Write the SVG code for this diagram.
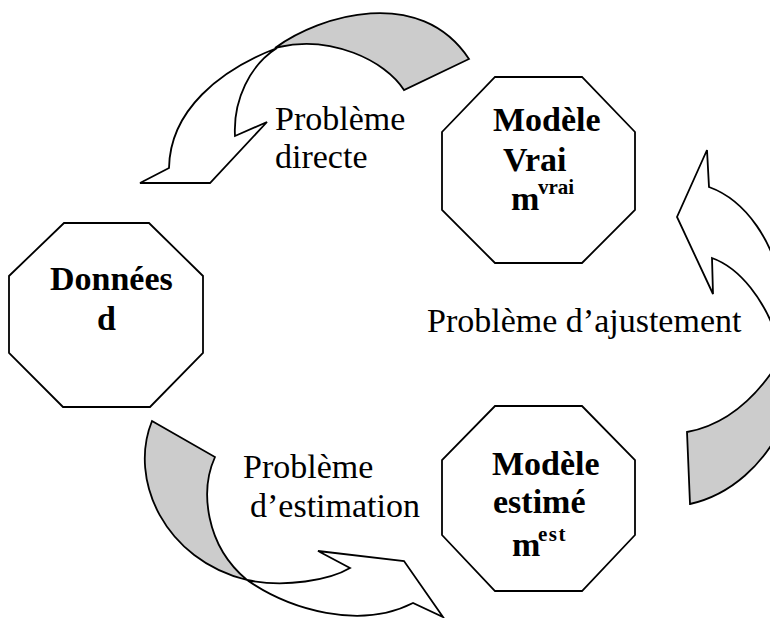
<svg xmlns="http://www.w3.org/2000/svg" width="770" height="618" viewBox="0 0 770 618">
<style>
.oct{fill:#fff;stroke:#000;stroke-width:1.8;stroke-linejoin:miter}
.w{fill:#fff;stroke:#000;stroke-width:1.8;stroke-linejoin:miter}
.g{fill:#cccccc;stroke:#000;stroke-width:1.8;stroke-linejoin:miter}
.b{font-family:"Liberation Serif","Times New Roman",serif;font-weight:bold;font-size:34px;fill:#000}
.sup{font-family:"Liberation Serif","Times New Roman",serif;font-weight:bold;font-size:21px;fill:#000}
.r{font-family:"Liberation Serif","Times New Roman",serif;font-size:34px;fill:#000}
</style>
<rect width="770" height="618" fill="#fff"/>
<g id="connectors">
  <g id="arrow-directe">
    <path class="g" d="M275,48 C320,15 420,-15 469,59 L404,90 C385,60 330,35 279,47 Z"/>
    <path class="w" d="M277,48 C220,70 170,110 169,168 L140,183 L210,183 L267,122 L235,136 C233,100 250,65 277,48 Z"/>
    <text class="r" x="275" y="130">Problème</text>
    <text class="r" x="275" y="168">directe</text>
  </g>
  <g id="arrow-ajustement">
    <path class="w" d="M707,150 L677,217 L713,294 L712,258 C740,268 765,300 778,340 L800,340 L800,300 L785,300 C775,240 745,200 709,187 Z"/>
    <path class="g" d="M687,432 C725,425 755,400 780,360 L800,360 L800,420 L785,420 C765,465 730,495 690,504 Z"/>
    <text class="r" x="427" y="332">Problème d’ajustement</text>
  </g>
  <g id="arrow-estimation">
    <path class="g" d="M152,421 L215,457 C200,490 205,545 247,580 C165,560 128,480 152,421 Z"/>
    <path class="w" d="M247,580 C290,610 360,630 413,603 L443,617 L404,561 L318,551 L350,568 C330,580 285,588 247,580 Z"/>
    <text class="r" x="243" y="478">Problème</text>
    <text class="r" x="250" y="517">d’estimation</text>
  </g>
</g>
<g id="node-donnees">
  <polygon class="oct" points="64,223 149,223 203,276 203,353 150,407 63,407 9,353 9,276"/>
  <text class="b" x="50" y="290">Données</text>
  <text class="b" x="97" y="330">d</text>
</g>
<g id="node-modele-vrai">
  <polygon class="oct" points="495,77 582,77 635,132 635,210 582,263 495,263 442,210 442,132"/>
  <text class="b" x="493" y="131">Modèle</text>
  <text class="b" x="503" y="171">Vrai</text>
  <text class="b" x="511" y="210">m</text>
  <text class="sup" x="538" y="194">vrai</text>
</g>
<g id="node-modele-estime">
  <polygon class="oct" points="495,406 582,406 635,460 635,535 582,591 495,591 442,535 442,460"/>
  <text class="b" x="492" y="475">Modèle</text>
  <text class="b" x="493" y="513">estimé</text>
  <text class="b" x="512" y="556">m</text>
  <text class="sup" x="538" y="541" letter-spacing="1.5">est</text>
</g>
</svg>
